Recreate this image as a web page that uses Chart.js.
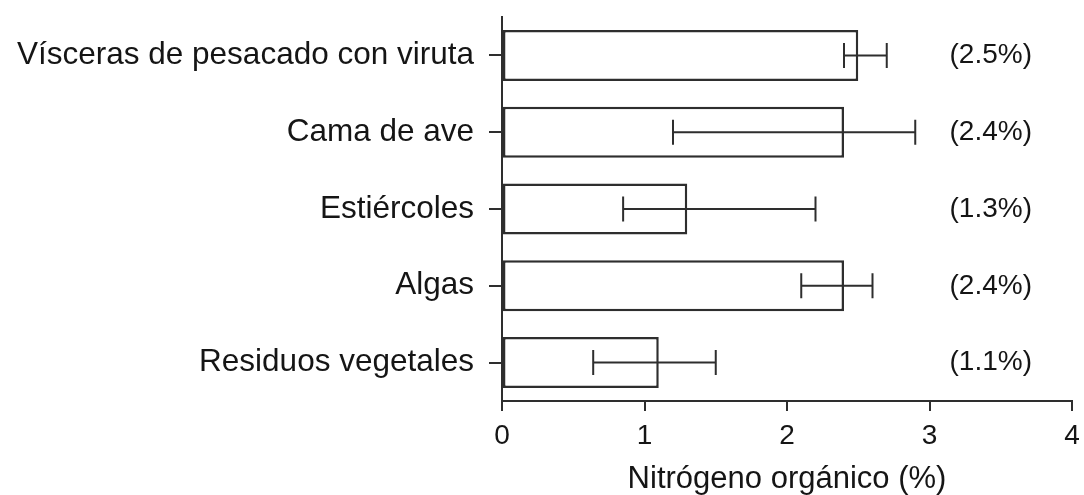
<!DOCTYPE html>
<html>
<head>
<meta charset="utf-8">
<script src="https://cdn.jsdelivr.net/npm/chart.js@4/dist/chart.umd.min.js"></script>
<style>
body{margin:0;background:#fff}
</style>
</head>
<body>
<canvas id="chart" width="1084" height="495"></canvas>
<script>
const categories = ["Vísceras de pesacado con viruta","Cama de ave","Estiércoles","Algas","Residuos vegetales"]
const values = [2.5, 2.4, 1.3, 2.4, 1.1]
const errLow = [2.4, 1.2, 0.85, 2.1, 0.64]
const errHigh = [2.7, 2.9, 2.2, 2.6, 1.5]
const valueLabels = ["(2.5%)","(2.4%)","(1.3%)","(2.4%)","(1.1%)"]
const xTicks = [0, 1, 2, 3, 4]

const FONT = "'Liberation Sans', Arial, sans-serif"
const INK = "#2e2e2e"
const TXT = "#151515"
const labelAt = 3.43

// error bars, drawn through the scales
const errorBars = {
id:"errorBars",
afterDatasetsDraw(chart){
const ctx = chart.ctx
const x = chart.scales.x
const y = chart.scales.y
ctx.save()
ctx.strokeStyle = INK
ctx.lineWidth = 2
errLow.forEach((lo,i)=>{
let py = y.getPixelForValue(i)
let x1 = x.getPixelForValue(lo)
let x2 = x.getPixelForValue(errHigh[i])
ctx.beginPath()
ctx.moveTo(x1,py); ctx.lineTo(x2,py)
ctx.moveTo(x1,py-12.5); ctx.lineTo(x1,py+12.5)
ctx.moveTo(x2,py-12.5); ctx.lineTo(x2,py+12.5)
ctx.stroke()
})
ctx.restore()
}
}

// "(2.5%)" style labels at the right
const sideLabels = {
id:"sideLabels",
afterDatasetsDraw(chart){
const ctx = chart.ctx
const x = chart.scales.x
const y = chart.scales.y
ctx.save()
ctx.fillStyle = TXT
ctx.font = "28px " + FONT
ctx.textAlign = "center"
ctx.textBaseline = "middle"
valueLabels.forEach((t,i)=>{
ctx.fillText(t, x.getPixelForValue(labelAt), y.getPixelForValue(i))
})
ctx.restore()
}
}

new Chart(document.getElementById("chart"),{
type:"bar",
data:{
labels:categories,
datasets:[{
data:values,
backgroundColor:"#fff",
borderColor:INK,
borderWidth:2.5,
borderSkipped:false,
categoryPercentage:1,
barPercentage:0.664
}]
},
options:{
indexAxis:"y",
responsive:false,
animation:false,
layout:{padding:{top:17,right:12,left:0,bottom:0}},
plugins:{legend:{display:false},tooltip:{enabled:false}},
scales:{
x:{
min:0,max:4,
afterBuildTicks:s=>{s.ticks = xTicks.map(v=>({value:v}))},
ticks:{font:{family:FONT,size:28},color:TXT,padding:8},
grid:{drawOnChartArea:false,tickLength:10,color:INK,lineWidth:2},
border:{color:INK,width:2},
title:{display:true,text:"Nitrógeno orgánico (%)",font:{family:FONT,size:31,lineHeight:1},color:TXT,padding:{top:0,bottom:0}},
afterFit:s=>{s.height = 94; s.paddingLeft = 0; s.paddingRight = 0}
},
y:{
ticks:{font:{family:FONT,size:31.5},color:TXT,padding:15},
grid:{offset:false,drawOnChartArea:false,tickLength:13,color:INK,lineWidth:2},
border:{color:INK,width:2},
afterFit:s=>{s.width = 502; s.paddingTop = 0; s.paddingBottom = 0}
}
}
},
plugins:[errorBars,sideLabels]
})
</script>
</body>
</html>
